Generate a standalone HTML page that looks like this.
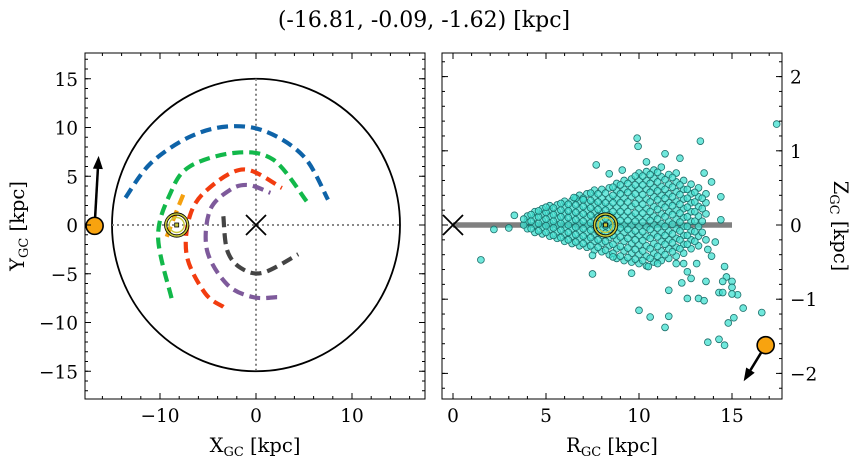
<!DOCTYPE html>
<html><head><meta charset="utf-8"><style>
html,body{margin:0;padding:0;background:#fff;width:854px;height:464px;overflow:hidden}
svg text{font-family:"DejaVu Serif","Liberation Serif",serif;fill:#000}
</style></head><body>
<svg id="fig" width="854" height="464" xmlns="http://www.w3.org/2000/svg">
<text x="424" y="27" font-size="22" text-anchor="middle">(-16.81, -0.09, -1.62) [kpc]</text>
<g id="left"></g>
<g id="right"></g>
</svg>
<script>
// ---- data ----
const armBlueX=[-13.6,-11,-7,-3,1,5,7.5], armBlueY=[2.8,6.3,9,10.1,9.6,7,2.6];
const armGreenX=[-8.8,-10.2,-8.9,-6.9,-2.2,1.8,5.3], armGreenY=[-7.5,-1.2,3.3,6.0,7.4,6.7,2.4];
const armOrangeX=[-9.3,-8.2,-7.5], armOrangeY=[-1.2,1.6,3.3];
const armRedX=[-3.4,-5.3,-7.2,-6.9,-5.1,-1.3,2.7], armRedY=[-8.4,-7.0,-3.2,0.9,3.6,5.7,3.8];
const armPurpleX=[2.2,-0.3,-3.0,-5.1,-4.8,-2.7,-0.8,1.5], armPurpleY=[-7.4,-7.4,-6.1,-2.6,1.5,3.6,4.1,3.3];
const armGrayX=[-3.4,-3.0,-1.6,0.7,4.4], armGrayY=[0.9,-2.6,-4.4,-4.9,-3.0];
const sunXY=[-8.26,0], objXY=[-16.81,-0.09];
const sunRZ=[8.2,0], objRZ=[16.81,-1.62];
const outR=[17.4,9.9,9.95,13.3,11.4,7.7,12.2,10.4,8.4,9.1,13.5,13.9,14.4,6.5,7.0,3.3,2.2,3.0,1.5,7.5,9.6,10.0,10.6,11.6,11.4,11.6,12.3,12.6,13.2,13.5,13.6,13.7,14.3,14.6,14.8,15.1,15.6,16.6,14.6,14.7,15.0,14.5,14.3,14.5,15.0,15.3,15.0,14.1,13.9,13.7,12.6,12.8,12.4,13.1,12.0,10.5,11.0,8.6,7.5,14.4];
const outZ=[1.36,1.17,1.06,1.13,0.96,0.81,0.90,0.85,0.69,0.74,0.70,0.58,0.38,0.37,0.34,0.13,-0.06,-0.04,-0.47,-0.66,-0.65,-1.15,-1.24,-1.23,-1.38,-0.88,-0.78,-0.99,-0.99,-1.02,-0.76,-1.58,-1.54,-1.62,-1.32,-1.25,-1.12,-1.18,-0.56,-0.70,-0.76,-0.76,-0.91,-0.91,-0.84,-0.94,-0.93,-0.23,-0.42,-0.33,-0.63,-0.72,-0.52,-0.52,-0.52,-0.56,-0.52,-0.43,-0.41,0.07];
const coreR=[4.0,4.4,4.8,5.2,5.6,6.0,6.4,6.8,7.2,7.6,8.0,8.4,8.8,9.2,9.6,10.0,10.4,10.8,11.2,11.6,12.0,12.4,12.8,13.2,13.6];
const coreZ=[[-0.05,0.05,0.12],[-0.1,0.0,0.1,0.18],[-0.12,-0.03,0.06,0.15,0.22],[-0.15,-0.06,0.03,0.12,0.2,0.26],[-0.18,-0.09,0.0,0.09,0.18,0.27],[-0.22,-0.12,-0.03,0.06,0.15,0.24,0.32],[-0.25,-0.15,-0.05,0.05,0.14,0.23,0.33],[-0.28,-0.18,-0.08,0.02,0.12,0.22,0.32,0.4],[-0.3,-0.2,-0.1,0.0,0.1,0.2,0.3,0.42],[-0.34,-0.22,-0.12,-0.02,0.08,0.18,0.28,0.38,0.47],[-0.36,-0.25,-0.14,-0.04,0.06,0.16,0.26,0.36,0.48],[-0.4,-0.28,-0.17,-0.06,0.04,0.14,0.25,0.36,0.5],[-0.45,-0.32,-0.2,-0.09,0.02,0.13,0.24,0.35,0.46,0.56],[-0.48,-0.35,-0.22,-0.1,0.0,0.12,0.24,0.36,0.48,0.6],[-0.5,-0.38,-0.25,-0.12,0.0,0.12,0.25,0.38,0.5,0.62],[-0.52,-0.4,-0.27,-0.14,-0.02,0.1,0.22,0.35,0.48,0.6,0.7],[-0.55,-0.42,-0.28,-0.15,-0.03,0.1,0.22,0.35,0.48,0.6,0.72],[-0.5,-0.38,-0.25,-0.12,0.0,0.12,0.25,0.38,0.5,0.63,0.74],[-0.48,-0.35,-0.22,-0.1,0.02,0.15,0.28,0.4,0.52,0.65,0.78],[-0.45,-0.32,-0.2,-0.08,0.05,0.18,0.3,0.42,0.55,0.68],[-0.42,-0.3,-0.18,-0.05,0.08,0.2,0.32,0.45,0.58,0.7],[-0.38,-0.26,-0.14,-0.02,0.1,0.22,0.35,0.48,0.6],[-0.32,-0.2,-0.08,0.05,0.18,0.3,0.42,0.55],[-0.28,-0.15,-0.02,0.12,0.25,0.38,0.5],[-0.2,0.15,0.3,0.42]];
const coreR2=[3.8,4.2,4.6,5.0,5.4,5.8,6.2,6.6,7.0,7.4,7.8,8.2,8.6,9.0,9.4,9.8,10.2,10.6,11.0,11.4,11.8,12.2,12.6,13.0,13.4];
const coreZ2=[[0.0,0.08],[-0.05,0.05,0.14],[-0.08,0.02,0.11,0.19],[-0.1,-0.01,0.08,0.17,0.24],[-0.14,-0.04,0.05,0.14,0.23],[-0.17,-0.07,0.02,0.11,0.2,0.29],[-0.2,-0.1,0.0,0.1,0.19,0.28],[-0.23,-0.13,-0.03,0.07,0.17,0.27,0.36],[-0.25,-0.15,-0.05,0.05,0.15,0.25,0.36],[-0.28,-0.17,-0.07,0.03,0.13,0.23,0.33,0.43],[-0.3,-0.2,-0.09,0.01,0.11,0.21,0.31,0.42],[-0.34,-0.22,-0.11,-0.01,0.09,0.2,0.3,0.43],[-0.38,-0.26,-0.14,-0.03,0.08,0.18,0.3,0.4,0.51],[-0.42,-0.29,-0.16,-0.04,0.06,0.18,0.3,0.42,0.54],[-0.44,-0.31,-0.18,-0.06,0.06,0.18,0.31,0.44,0.56],[-0.46,-0.33,-0.2,-0.08,0.05,0.16,0.29,0.42,0.54,0.66],[-0.48,-0.35,-0.21,-0.09,0.04,0.16,0.28,0.41,0.54,0.66],[-0.45,-0.32,-0.18,-0.06,0.06,0.18,0.31,0.44,0.56,0.68],[-0.42,-0.29,-0.16,-0.04,0.08,0.21,0.34,0.46,0.58,0.71],[-0.4,-0.26,-0.14,-0.02,0.11,0.24,0.36,0.48,0.61],[-0.36,-0.24,-0.12,0.01,0.14,0.26,0.38,0.51,0.64],[-0.32,-0.2,-0.08,0.04,0.16,0.28,0.41,0.54],[-0.26,-0.14,-0.02,0.11,0.24,0.36,0.48],[-0.22,-0.09,0.05,0.18,0.31,0.44],[-0.1,0.05,0.22,0.36]];
const leftXTicks=[-10,0,10], leftYTicks=[-15,-10,-5,0,5,10,15];
const rightXTicks=[0,5,10,15], rightYTicks=[-2,-1,0,1,2];

// ---- helpers ----
const NS="http://www.w3.org/2000/svg";
function mk(p,tag,at){const e=document.createElementNS(NS,tag);for(const k in at)e.setAttribute(k,at[k]);p.appendChild(e);return e;}
const L={x0:85,x1:425,y0:53,y1:399};
const lx=v=>256+v*9.6, ly=v=>225-v*9.75;
const R={x0:442,x1:782,y0:53,y1:399};
const rx=v=>453+v*18.6, ry=v=>225-v*74.2;
function smooth(xs,ys,fx,fy){const p=xs.map((x,i)=>[fx(x),fy(ys[i])]);let d="M"+p[0][0]+","+p[0][1];
 for(let i=0;i<p.length-1;i++){const p0=p[i-1]||p[i],p1=p[i],p2=p[i+1],p3=p[i+2]||p2;
 const c1=[p1[0]+(p2[0]-p0[0])/6,p1[1]+(p2[1]-p0[1])/6],c2=[p2[0]-(p3[0]-p1[0])/6,p2[1]-(p3[1]-p1[1])/6];
 d+=` C${c1[0]},${c1[1]} ${c2[0]},${c2[1]} ${p2[0]},${p2[1]}`;}return d;}
function frameTicks(g,A,fx,fy,xmaj,xmin,ymaj,ymin,yRight){
 const f=mk(g,'rect',{x:A.x0,y:A.y0,width:A.x1-A.x0,height:A.y1-A.y0,fill:'none',stroke:'#000','stroke-width':1});
 
 const tk=(x1,y1,x2,y2)=>mk(g,'line',{x1,y1,x2,y2,stroke:'#000','stroke-width':1});
 xmin.forEach(v=>{const x=fx(v);if(x<A.x0||x>A.x1)return;tk(x,A.y1,x,A.y1-3);tk(x,A.y0,x,A.y0+3);});
 ymin.forEach(v=>{const y=fy(v);if(y<A.y0||y>A.y1)return;tk(A.x0,y,A.x0+3,y);tk(A.x1,y,A.x1-3,y);});
 xmaj.forEach(v=>{const x=fx(v);tk(x,A.y1,x,A.y1-6);tk(x,A.y0,x,A.y0+6);
  const t=mk(g,'text',{x:x,y:A.y1+23,'font-size':18.5,'text-anchor':'middle'});t.textContent=v<0?'\u2212'+(-v):v;
  });
 ymaj.forEach(v=>{const y=fy(v);tk(A.x0,y,A.x0+6,y);tk(A.x1,y,A.x1-6,y);
  const t=mk(g,'text',{x:yRight?A.x1+8:A.x0-7,y:y+7,'font-size':18.5,'text-anchor':yRight?'start':'end'});t.textContent=v<0?'\u2212'+(-v):v;
  });
}
function range(a,b,s){const r=[];for(let v=a;v<=b+1e-9;v+=s)r.push(+v.toFixed(3));return r;}

// ---- left panel ----
const gl=document.getElementById('left');
let e=mk(gl,'ellipse',{cx:lx(0),cy:ly(0),rx:15*9.6,ry:15*9.75,fill:'none',stroke:'#000','stroke-width':1.8});

e=mk(gl,'line',{x1:lx(-15),y1:ly(0),x2:lx(15),y2:ly(0),stroke:'#777','stroke-width':1.8,'stroke-dasharray':'2,3'});

e=mk(gl,'line',{x1:lx(0),y1:ly(15),x2:lx(0),y2:ly(-15),stroke:'#777','stroke-width':1.8,'stroke-dasharray':'2,3'});

const arms=[[armBlueX,armBlueY,'#0e63a8','arm-blue'],[armGreenX,armGreenY,'#12b84a','arm-green'],[armOrangeX,armOrangeY,'#f5a00f','arm-orange'],[armRedX,armRedY,'#f23c0f','arm-red'],[armPurpleX,armPurpleY,'#7e5a9b','arm-purple'],[armGrayX,armGrayY,'#444444','arm-gray']];
arms.forEach(a=>{e=mk(gl,'path',{d:smooth(a[0],a[1],lx,ly),fill:'none',stroke:a[2],'stroke-width':4.2,'stroke-dasharray':'11,6'});
 });
function cross(g,x,y,name){const s=mk(g,'g',{});
 mk(s,'line',{x1:x-10,y1:y-10,x2:x+10,y2:y+10,stroke:'#000','stroke-width':1.8});mk(s,'line',{x1:x-10,y1:y+10,x2:x+10,y2:y-10,stroke:'#000','stroke-width':1.8});}
function sun(g,x,y){const s=mk(g,'g',{});
 mk(s,'circle',{cx:x,cy:y,r:11,fill:'none',stroke:'#000','stroke-width':3.2});mk(s,'circle',{cx:x,cy:y,r:11,fill:'none',stroke:'#c9c93a','stroke-width':1.6});
 mk(s,'circle',{cx:x,cy:y,r:7.5,fill:'none',stroke:'#c9c93a','stroke-width':1.4});mk(s,'rect',{x:x-2,y:y-2,width:4,height:4,fill:'#c9c93a',stroke:'#000','stroke-width':0.8});}
function obj(g,x,y,dx,dy){const s=mk(g,'g',{});
 const len=Math.hypot(dx,dy),ux=dx/len,uy=dy/len,tx=x+dx,ty=y+dy;
 mk(s,'line',{x1:x,y1:y,x2:tx-ux*10,y2:ty-uy*10,stroke:'#000','stroke-width':2.5});
 mk(s,'polygon',{points:`${tx},${ty} ${tx-ux*13-uy*5},${ty-uy*13+ux*5} ${tx-ux*13+uy*5},${ty-uy*13-ux*5}`,fill:'#000'});
 mk(s,'circle',{cx:x,cy:y,r:8.5,fill:'#f8a30f',stroke:'#000','stroke-width':1.6});}
cross(gl,lx(0),ly(0),'galactic-center-cross');
sun(gl,lx(sunXY[0]),ly(sunXY[1]));
obj(gl,lx(objXY[0]),ly(objXY[1]),4,-70);
frameTicks(gl,L,lx,ly,leftXTicks,range(-16,16,2),leftYTicks,range(-17,17,1),false);
let t=mk(gl,'text',{x:255,y:452,'font-size':19.5,'text-anchor':'middle'});t.innerHTML='X<tspan font-size="13" dy="4">GC</tspan><tspan dy="-4"> [kpc]</tspan>';

t=mk(gl,'text',{x:0,y:0,'font-size':19.5,'text-anchor':'middle',transform:'translate(24,226) rotate(-90)'});t.innerHTML='Y<tspan font-size="13" dy="4">GC</tspan><tspan dy="-4"> [kpc]</tspan>';


// ---- right panel ----
const gr=document.getElementById('right');
e=mk(gr,'line',{x1:rx(0),y1:ry(0),x2:rx(15),y2:ry(0),stroke:'#808080','stroke-width':5.5});

const sg=mk(gr,'g',{});
function dot(r,z){const c=mk(sg,'circle',{cx:rx(r),cy:ry(z),r:3.4,fill:'rgba(64,224,208,0.75)',stroke:'#1d6e6a','stroke-width':0.8});
 }
coreR.forEach((r,i)=>coreZ[i].forEach(z=>dot(r,z)));
coreR2.forEach((r,i)=>coreZ2[i].forEach(z=>dot(r,z)));
outR.forEach((r,i)=>dot(r,outZ[i]));
cross(gr,rx(0),ry(0),'galactic-center-cross');
sun(gr,rx(sunRZ[0]),ry(sunRZ[1]));
obj(gr,rx(objRZ[0]),ry(objRZ[1]),-22,36);
frameTicks(gr,R,rx,ry,rightXTicks,range(0,17,1),rightYTicks,range(-2.2,2.2,0.2),true);
t=mk(gr,'text',{x:612,y:452,'font-size':19.5,'text-anchor':'middle'});t.innerHTML='R<tspan font-size="13" dy="4">GC</tspan><tspan dy="-4"> [kpc]</tspan>';

t=mk(gr,'text',{x:0,y:0,'font-size':19.5,'text-anchor':'middle',transform:'translate(834,226) rotate(90)'});t.innerHTML='Z<tspan font-size="13" dy="4">GC</tspan><tspan dy="-4"> [kpc]</tspan>';

</script>
</body></html>
